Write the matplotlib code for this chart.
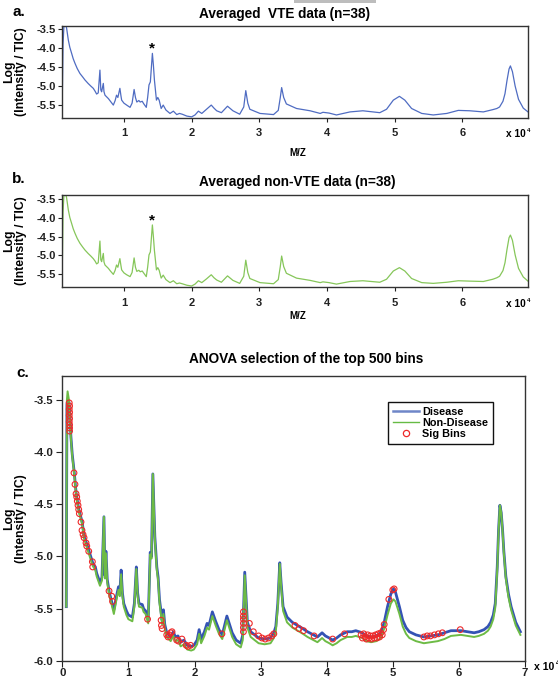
import matplotlib
matplotlib.use("Agg")
import matplotlib.pyplot as plt
from matplotlib.patches import Rectangle
from matplotlib.ticker import FuncFormatter
from matplotlib.lines import Line2D

plt.rcParams['font.family'] = ['Liberation Sans', 'DejaVu Sans']
plt.rcParams['font.weight'] = 'bold'

# ---------------- data: panels a / b (m/z in units of 1e4) ----------------
mz_ab = [0.089, 0.10, 0.115, 0.14, 0.153, 0.178, 0.20, 0.227, 0.25, 0.276,
         0.31, 0.35, 0.39, 0.424, 0.47, 0.51, 0.547, 0.575, 0.596, 0.62,
         0.645, 0.658, 0.67, 0.695, 0.705, 0.72, 0.77, 0.80, 0.843, 0.87,
         0.89, 0.91, 0.94, 0.955, 0.966, 1.0, 1.04, 1.09, 1.12, 1.15,
         1.17, 1.19, 1.22, 1.24, 1.27, 1.29, 1.33, 1.35, 1.37, 1.39,
         1.42, 1.435, 1.45, 1.48, 1.50, 1.52, 1.55, 1.58, 1.62, 1.68,
         1.73, 1.78, 1.82, 1.86, 1.93, 2.0, 2.05, 2.10, 2.15, 2.22,
         2.29, 2.33, 2.37, 2.44, 2.53, 2.61, 2.71, 2.77, 2.80, 2.83,
         2.86, 3.01, 3.21, 3.28, 3.31, 3.33, 3.36, 3.40, 3.55, 3.75,
         3.90, 3.94, 4.03, 4.14, 4.34, 4.53, 4.78, 4.88, 4.98, 5.07,
         5.15, 5.25, 5.40, 5.57, 5.77, 5.94, 6.11, 6.31, 6.45, 6.51,
         6.55, 6.60, 6.63, 6.66, 6.69, 6.71, 6.74, 6.78, 6.83, 6.90,
         6.97]
vte_avg = [-5.28, -3.90, -3.35, -3.38, -3.48, -3.79, -3.98, -4.14, -4.28, -4.40,
           -4.54, -4.67, -4.76, -4.84, -4.93, -5.00, -5.06, -5.14, -5.21, -5.18,
           -4.58, -5.10, -5.15, -4.93, -5.15, -5.24, -5.33, -5.40, -5.50, -5.38,
           -5.24, -5.30, -5.06, -5.25, -5.37, -5.45, -5.50, -5.56, -5.45, -5.09,
           -5.30, -5.42, -5.38, -5.42, -5.40, -5.46, -5.56, -5.30, -4.97, -4.89,
           -4.14, -4.45, -4.84, -5.37, -5.30, -5.37, -5.59, -5.50, -5.63, -5.72,
           -5.66, -5.75, -5.72, -5.74, -5.79, -5.81, -5.76, -5.66, -5.72, -5.61,
           -5.50, -5.58, -5.65, -5.70, -5.53, -5.65, -5.74, -5.55, -5.12, -5.45,
           -5.61, -5.72, -5.75, -5.64, -5.30, -5.04, -5.30, -5.47, -5.59, -5.65,
           -5.72, -5.69, -5.71, -5.76, -5.68, -5.65, -5.70, -5.61, -5.37, -5.27,
           -5.37, -5.59, -5.72, -5.76, -5.72, -5.64, -5.65, -5.68, -5.62, -5.59,
           -5.55, -5.40, -5.20, -4.85, -4.55, -4.47, -4.62, -5.00, -5.35, -5.58,
           -5.68]
nonvte_avg = [-5.30, -3.85, -3.32, -3.36, -3.47, -3.79, -3.99, -4.15, -4.29, -4.41,
              -4.55, -4.68, -4.78, -4.86, -4.95, -5.02, -5.09, -5.16, -5.23, -5.20,
              -4.62, -5.12, -5.17, -4.95, -5.18, -5.26, -5.35, -5.42, -5.51, -5.40,
              -5.26, -5.32, -5.09, -5.27, -5.39, -5.47, -5.52, -5.57, -5.46, -5.07,
              -5.32, -5.43, -5.40, -5.44, -5.42, -5.47, -5.57, -5.32, -4.99, -4.91,
              -4.19, -4.50, -4.87, -5.39, -5.33, -5.40, -5.61, -5.53, -5.65, -5.73,
              -5.68, -5.76, -5.74, -5.76, -5.80, -5.82, -5.77, -5.68, -5.73, -5.63,
              -5.52, -5.60, -5.66, -5.72, -5.55, -5.67, -5.75, -5.56, -5.13, -5.46,
              -5.62, -5.73, -5.76, -5.65, -5.30, -5.02, -5.30, -5.48, -5.61, -5.67,
              -5.73, -5.71, -5.73, -5.77, -5.70, -5.68, -5.72, -5.64, -5.42, -5.33,
              -5.42, -5.62, -5.73, -5.75, -5.72, -5.68, -5.69, -5.70, -5.64, -5.60,
              -5.56, -5.41, -5.20, -4.84, -4.53, -4.46, -4.60, -4.99, -5.35, -5.58,
              -5.69]
star_mz = 1.42
star_vte = -4.0
star_nonvte = -4.06

# ---------------- data: panel c ----------------
mz_c = [0.06, 0.07, 0.08, 0.10, 0.11, 0.13, 0.15, 0.18, 0.21, 0.25,
        0.30, 0.33, 0.37, 0.41, 0.46, 0.50, 0.52, 0.57, 0.60, 0.63,
        0.645, 0.66, 0.68, 0.71, 0.75, 0.78, 0.82, 0.85, 0.87, 0.89,
        0.91, 0.93, 0.97, 1.00, 1.06, 1.09, 1.12, 1.14, 1.16, 1.21,
        1.23, 1.26, 1.30, 1.33, 1.35, 1.37, 1.40, 1.43, 1.45, 1.47,
        1.51, 1.53, 1.55, 1.58, 1.64, 1.68, 1.71, 1.75, 1.79, 1.84,
        1.89, 1.95, 1.99, 2.04, 2.07, 2.10, 2.15, 2.19, 2.22, 2.27,
        2.32, 2.37, 2.42, 2.49, 2.53, 2.57, 2.63, 2.70, 2.73, 2.76,
        2.78, 2.80, 2.85, 2.91, 2.97, 3.06, 3.15, 3.20, 3.23, 3.26,
        3.29, 3.31, 3.34, 3.40, 3.48, 3.56, 3.64, 3.71, 3.80, 3.86,
        3.93, 3.98, 4.04, 4.09, 4.15, 4.21, 4.31, 4.38, 4.44, 4.54,
        4.60, 4.67, 4.75, 4.82, 4.87, 4.92, 4.97, 5.01, 5.04, 5.07,
        5.10, 5.15, 5.20, 5.25, 5.35, 5.47, 5.58, 5.68, 5.78, 5.88,
        6.03, 6.13, 6.23, 6.30, 6.38, 6.44, 6.48, 6.52, 6.55, 6.58,
        6.60, 6.62, 6.64, 6.66, 6.68, 6.71, 6.75, 6.79, 6.86, 6.93]
disease = [-5.48, -3.55, -3.50, -3.52, -3.60, -3.85, -4.02, -4.19, -4.40, -4.55,
           -4.67, -4.81, -4.88, -4.96, -5.06, -5.10, -5.16, -5.25, -5.20, -4.62,
           -5.18, -4.95, -5.22, -5.34, -5.44, -5.51, -5.38, -5.29, -5.35, -5.13,
           -5.35, -5.45, -5.52, -5.56, -5.58, -5.45, -5.10, -5.35, -5.45, -5.46,
           -5.50, -5.52, -5.61, -4.96, -5.00, -4.21, -4.81, -5.10, -5.20, -5.41,
           -5.61, -5.51, -5.65, -5.73, -5.77, -5.72, -5.77, -5.76, -5.82, -5.80,
           -5.85, -5.86, -5.85, -5.80, -5.70, -5.79, -5.72, -5.64, -5.66, -5.53,
           -5.62, -5.70, -5.75, -5.57, -5.65, -5.73, -5.80, -5.83, -5.75, -5.15,
           -5.40, -5.63, -5.72, -5.75, -5.78, -5.79, -5.78, -5.73, -5.67, -5.45,
           -5.06, -5.25, -5.48, -5.58, -5.63, -5.66, -5.69, -5.72, -5.75, -5.77,
           -5.73, -5.76, -5.78, -5.80, -5.78, -5.75, -5.72, -5.72, -5.71, -5.73,
           -5.76, -5.77, -5.76, -5.73, -5.63, -5.48, -5.36, -5.31, -5.34, -5.41,
           -5.48, -5.61, -5.68, -5.72, -5.75, -5.77, -5.76, -5.75, -5.73, -5.71,
           -5.71, -5.72, -5.73, -5.72, -5.70, -5.67, -5.63, -5.56, -5.45, -5.10,
           -4.75, -4.51, -4.58, -4.74, -4.95, -5.19, -5.36, -5.48, -5.63, -5.72]
non_disease = [-5.48, -3.50, -3.42, -3.50, -3.62, -3.87, -4.04, -4.21, -4.42, -4.57,
               -4.69, -4.83, -4.91, -4.99, -5.09, -5.13, -5.19, -5.28, -5.23, -4.62,
               -5.21, -4.97, -5.25, -5.37, -5.47, -5.55, -5.41, -5.32, -5.38, -5.17,
               -5.38, -5.48, -5.56, -5.60, -5.62, -5.48, -5.12, -5.38, -5.48, -5.49,
               -5.53, -5.55, -5.64, -4.98, -5.02, -4.21, -4.84, -5.13, -5.23, -5.44,
               -5.65, -5.55, -5.69, -5.77, -5.81, -5.76, -5.81, -5.80, -5.86, -5.84,
               -5.89, -5.90, -5.89, -5.84, -5.74, -5.83, -5.76, -5.68, -5.70, -5.57,
               -5.66, -5.74, -5.79, -5.61, -5.69, -5.77, -5.84, -5.87, -5.80, -5.18,
               -5.44, -5.68, -5.77, -5.80, -5.83, -5.84, -5.83, -5.78, -5.72, -5.48,
               -5.07, -5.28, -5.52, -5.63, -5.68, -5.71, -5.74, -5.77, -5.80, -5.82,
               -5.78, -5.81, -5.83, -5.85, -5.83, -5.80, -5.77, -5.77, -5.76, -5.78,
               -5.81, -5.82, -5.81, -5.78, -5.69, -5.56, -5.45, -5.41, -5.43, -5.49,
               -5.55, -5.67, -5.74, -5.78, -5.81, -5.83, -5.82, -5.81, -5.79, -5.76,
               -5.75, -5.76, -5.77, -5.76, -5.74, -5.71, -5.67, -5.60, -5.49, -5.13,
               -4.76, -4.51, -4.58, -4.75, -4.97, -5.21, -5.39, -5.51, -5.66, -5.75]
sig_mz = [0.105, 0.11, 0.105, 0.11, 0.105, 0.11, 0.105, 0.11, 0.11, 0.11,
          0.177, 0.192, 0.208, 0.218, 0.227, 0.238, 0.248, 0.258, 0.283, 0.298,
          0.314, 0.329, 0.359, 0.37, 0.40, 0.455, 0.46, 0.707, 0.748, 0.76,
          1.29, 1.495, 1.50, 1.51, 1.58, 1.60, 1.62, 1.64, 1.66, 1.73,
          1.76, 1.81, 1.875, 1.90, 1.94, 2.415, 2.74, 2.74, 2.74, 2.74,
          2.74, 2.74, 2.83, 2.89, 2.97, 3.02, 3.07, 3.12, 3.17, 3.20,
          3.52, 3.58, 3.65, 3.81, 4.09, 4.27, 4.52, 4.54, 4.56, 4.58,
          4.60, 4.62, 4.64, 4.66, 4.68, 4.70, 4.72, 4.74, 4.76, 4.78,
          4.80, 4.82, 4.84, 4.86, 4.87, 4.94, 5.00, 5.02, 5.47, 5.52,
          5.57, 5.63, 5.69, 5.75, 6.02]
sig_val = [-3.53, -3.56, -3.59, -3.62, -3.65, -3.68, -3.71, -3.74, -3.77, -3.80,
           -4.20, -4.31, -4.40, -4.43, -4.47, -4.51, -4.55, -4.59, -4.67, -4.75,
           -4.79, -4.82, -4.87, -4.90, -4.95, -5.05, -5.10, -5.33, -5.38, -5.43,
           -5.60, -5.61, -5.66, -5.69, -5.75, -5.77, -5.75, -5.73, -5.72, -5.80,
           -5.81, -5.79, -5.85, -5.86, -5.85, -5.74, -5.53, -5.57, -5.60, -5.64,
           -5.68, -5.72, -5.64, -5.72, -5.76, -5.78, -5.79, -5.78, -5.76, -5.74,
           -5.66, -5.69, -5.71, -5.76, -5.79, -5.74, -5.75, -5.78, -5.74, -5.77,
           -5.79, -5.75, -5.78, -5.76, -5.79, -5.76, -5.78, -5.75, -5.78, -5.74,
           -5.77, -5.73, -5.75, -5.70, -5.65, -5.41, -5.32, -5.31, -5.77, -5.76,
           -5.76, -5.75, -5.74, -5.73, -5.70]

yticks_ab = [-3.5, -4.0, -4.5, -5.0, -5.5]
xticks_ab = [1, 2, 3, 4, 5, 6]
yticks_c = [-3.5, -4.0, -4.5, -5.0, -5.5, -6.0]
xticks_c = [0, 1, 2, 3, 4, 5, 6, 7]

SCALE = 1e4
W, H = 558, 679

def e4(v):
    return [x * SCALE for x in v]

fig = plt.figure(figsize=(W / 100, H / 100), dpi=100)

def ax_at(l, t, r, b):
    return fig.add_axes([l / W, 1 - b / H, (r - l) / W, (b - t) / H])

def ftext(x, y, s, **kw):
    kw.setdefault('fontweight', 'bold')
    return fig.text(x / W, 1 - y / H, s, **kw)

fmt = FuncFormatter(lambda v, p: f"{v / SCALE:g}")
fmty = FuncFormatter(lambda v, p: f"{v:.1f}")

def style(ax, size, xpad, ypad, tl):
    for s in ax.spines.values():
        s.set_linewidth(1.0)
        s.set_color('#333333')
    ax.tick_params(direction='out', length=tl, width=0.8, labelsize=size, colors='#222222')
    ax.tick_params(axis='x', pad=xpad)
    ax.tick_params(axis='y', pad=ypad)
    for lab in ax.get_xticklabels() + ax.get_yticklabels():
        lab.set_fontweight('bold')
    ax.xaxis.set_major_formatter(fmt)
    ax.yaxis.set_major_formatter(fmty)

# ---- panel a ----
axa = ax_at(62.3, 26, 528, 118)
axa.plot(e4(mz_ab), vte_avg, color='#4f6cc2', lw=0.9)
axa.set_xlim(890, 69700)
axa.set_ylim(-5.84, -3.42)
axa.set_xticks(e4(xticks_ab))
axa.set_yticks(yticks_ab)
style(axa, 8, 4.5, 1.5, 3)
axa.text(star_mz * SCALE, star_vte, '*', ha='center', va='center', fontsize=11, fontweight='bold')

# ---- panel b ----
axb = ax_at(62.3, 195, 528, 287.3)
axb.plot(e4(mz_ab), nonvte_avg, color='#86c65a', lw=0.9)
axb.set_xlim(890, 69700)
axb.set_ylim(-5.855, -3.39)
axb.set_xticks(e4(xticks_ab))
axb.set_yticks(yticks_ab)
style(axb, 8, 4.5, 1.5, 3)
axb.text(star_mz * SCALE, star_nonvte, '*', ha='center', va='center', fontsize=11, fontweight='bold')

# ---- panel c ----
axc = ax_at(62.3, 375.7, 525, 661)
axc.plot(e4(mz_c), disease, color='#3453b4', lw=2.0, label='Disease')
axc.plot(e4(mz_c), non_disease, color='#6dbb45', lw=1.4, label='Non-Disease')
axc.scatter(e4(sig_mz), sig_val, s=17, facecolors='none', edgecolors='#ee2a2a',
            linewidths=0.8, label='Sig Bins', zorder=3)
axc.set_xlim(0, 70000)
axc.set_ylim(-6.0, -3.27)
axc.set_xticks(e4(xticks_c))
axc.set_yticks(yticks_c)
style(axc, 8.2, 1.2, 2.4, 4)

handles = [Line2D([], [], color='#6f86c8', lw=1.8),
           Line2D([], [], color='#66bb44', lw=1.0),
           Line2D([], [], ls='none', marker='o', markersize=4.5, markerfacecolor='none',
                  markeredgecolor='#ee2a2a', markeredgewidth=0.9)]
leg = axc.legend(handles, ['Disease', 'Non-Disease', 'Sig Bins'],
                 loc='upper left', bbox_to_anchor=(388.3 / W, 1 - 402.3 / H),
                 bbox_transform=fig.transFigure, frameon=True, fancybox=False,
                 edgecolor='#111111', framealpha=1, borderpad=0.42, labelspacing=0.1,
                 handlelength=2.4, handletextpad=0.3, borderaxespad=0,
                 prop={'size': 7.8, 'weight': 'bold'})
leg.get_frame().set_linewidth(1.0)

# ---- texts ----
ftext(12, 12, 'a.', fontsize=11, ha='left', va='center')
ftext(199, 14, 'Averaged  VTE data (n=38)', fontsize=9.8, ha='left', va='center')
ftext(12, 179, 'b.', fontsize=11, ha='left', va='center')
ftext(199, 182, 'Averaged non-VTE data (n=38)', fontsize=9.8, ha='left', va='center')
ftext(16, 372.7, 'c.', fontsize=11, ha='left', va='center')
ftext(305.7, 359.3, 'ANOVA selection of the top 500 bins', fontsize=9.8, ha='center', va='center')

ftext(298, 153, 'M/Z', fontsize=7, ha='center', va='center')
ftext(298, 315.7, 'M/Z', fontsize=7, ha='center', va='center')

for yc in (72, 241, 518.5):
    ftext(15.5, yc, 'Log\n(Intensity / TIC)', fontsize=8.8, rotation=90,
          ha='center', va='center', multialignment='center', linespacing=1.0)

for (x0, yc, fs) in ((506, 134, 7.3), (506, 304, 7.3), (534, 667.5, 7.6)):
    ftext(x0, yc, 'x 10', fontsize=fs, ha='left', va='center')
    ftext(x0 + fs * 2.85, yc - 4, '4', fontsize=fs * 0.62, ha='left', va='center')

fig.patches.append(Rectangle((294 / W, 1 - 3 / H), 82 / W, 3 / H, transform=fig.transFigure,
                             facecolor='#bdbdbd', edgecolor='none'))

fig.savefig('out.png', dpi=100)
